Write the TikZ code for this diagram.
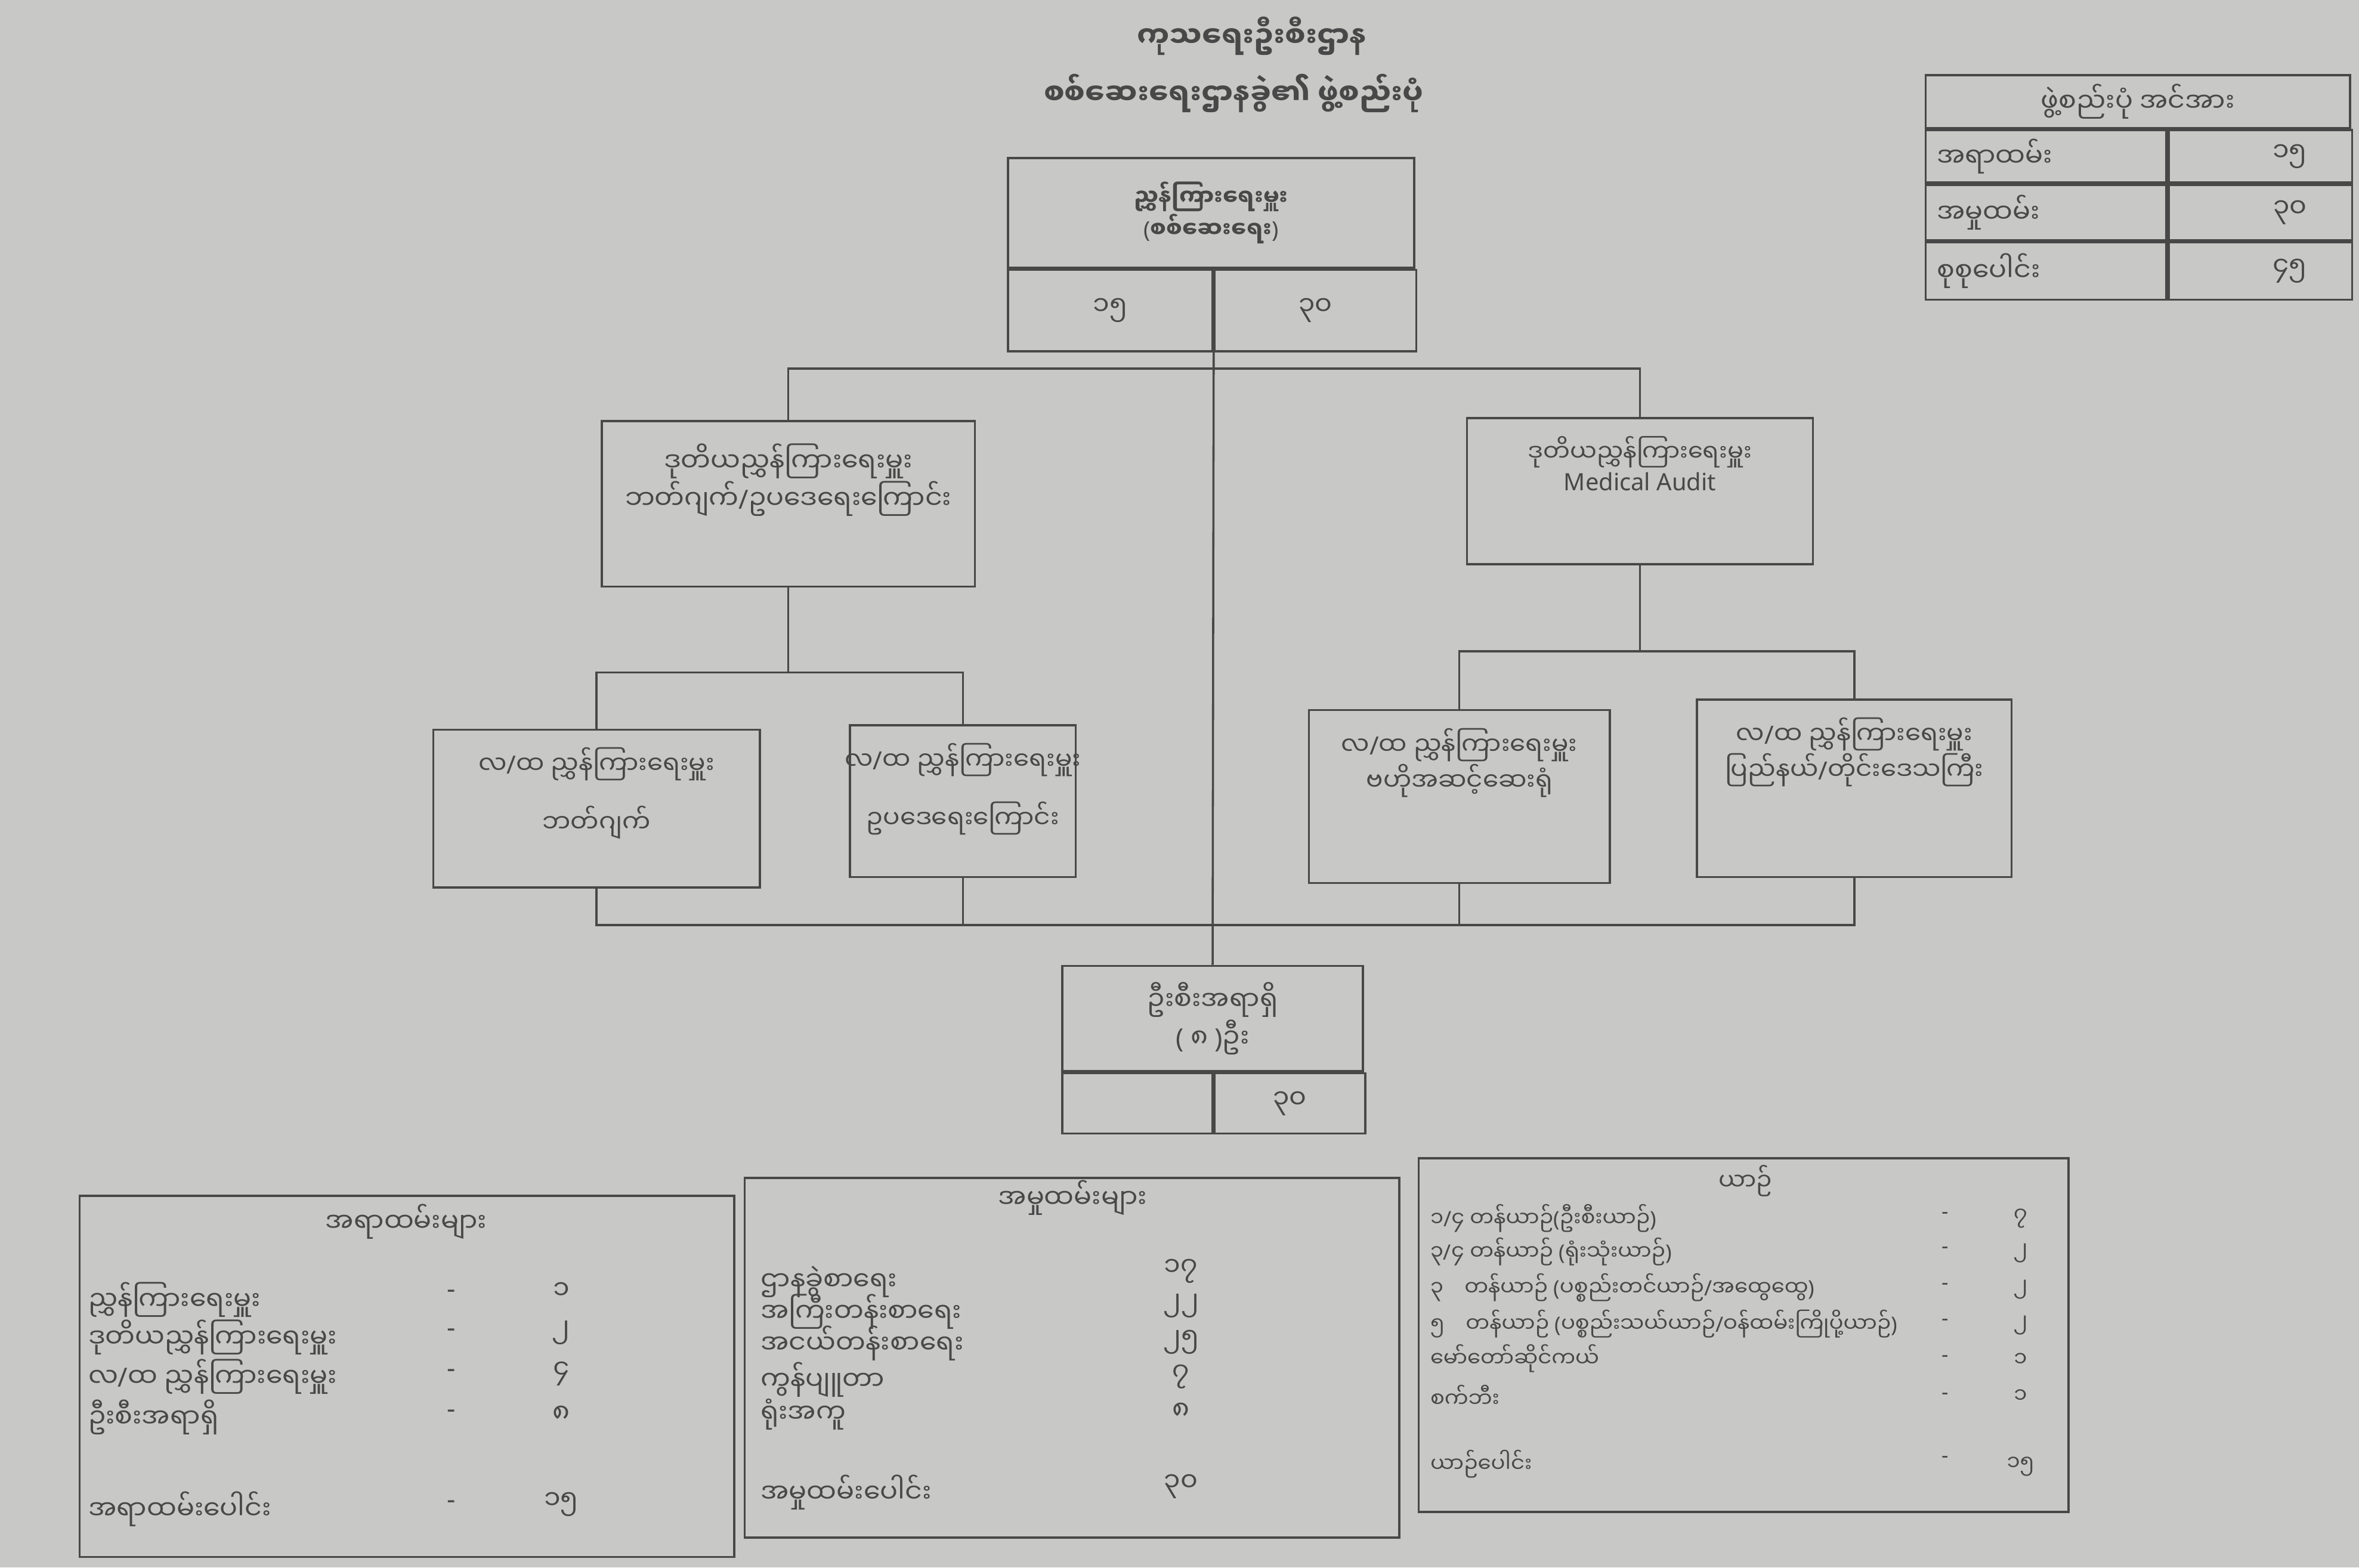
\documentclass[tikz,border=0pt]{standalone}
\usepackage{fontspec}
\setmainfont{Noto Sans}
\newfontfamily\mmfont[Script=Myanmar]{Noto Sans Myanmar UI}
\usetikzlibrary{positioning}

\definecolor{paper}{RGB}{200,200,198}
\definecolor{ink}{RGB}{72,72,72}

% punctuation that the Myanmar face lacks
\newcommand{\opn}{{\rmfamily(}}
\newcommand{\cls}{{\rmfamily)}}
\newcommand{\slsh}{{\rmfamily/}}
\newcommand{\dsh}{{\rmfamily-}}

\begin{document}
\begin{tikzpicture}[
            x = 0.2mm, y = -0.2mm, % one unit = one pixel of the scan
            line width = 0.8pt, % line style
            every node/.style = {text = ink, font = \mmfont\fontsize{10}{13}\selectfont}
        ]

        \tikzstyle{unit}=[
            draw = ink,
            rectangle,
            inner sep = 0pt
        ]
        \tikzstyle{lbl}=[align = center, inner sep = 0pt]
        \tikzstyle{row}=[anchor = west, inner sep = 0pt]
        \tikzstyle{num}=[inner sep = 0pt]
        \tikzstyle{vrow}=[row, font = \mmfont\fontsize{8}{10}\selectfont]
        \tikzstyle{vnum}=[num, font = \mmfont\fontsize{8}{10}\selectfont]
        \tikzstyle{head}=[font = \mmfont\bfseries\fontsize{11}{13}\selectfont]

        \fill[paper] (0,0) rectangle (1568,1042);
        \useasboundingbox (0,0) rectangle (1568,1042);

        % title
        \node[head] (dept) at (832,24) {ကုသရေးဦးစီးဌာန};
        \node[head] (title) at (820,62) {စစ်ဆေးရေးဌာနခွဲ၏ ဖွဲ့စည်းပုံ};

        % strength table
        \node[unit, minimum width=56.4mm, minimum height=7mm] (sHead) at (1421,67.5) {ဖွဲ့စည်းပုံ အင်အား};
        \node[unit, minimum width=32mm, minimum height=7mm, anchor=north west] (sOff) at (sHead.south west) {};
        \node[unit, minimum width=24.4mm, minimum height=7mm, anchor=north west] (sOffN) at (sOff.north east) {};
        \node[unit, minimum width=32mm, minimum height=7.4mm, anchor=north west] (sStf) at (sOff.south west) {};
        \node[unit, minimum width=24.4mm, minimum height=7.4mm, anchor=north west] (sStfN) at (sStf.north east) {};
        \node[unit, minimum width=32mm, minimum height=7.6mm, anchor=north west] (sAll) at (sStf.south west) {};
        \node[unit, minimum width=24.4mm, minimum height=7.6mm, anchor=north west] (sAllN) at (sAll.north east) {};
        \node[row, right=1.5mm of sOff.west] (sOffT) {အရာထမ်း};
        \node[row, right=1.5mm of sStf.west] (sStfT) {အမှုထမ်း};
        \node[row, right=1.5mm of sAll.west] (sAllT) {စုစုပေါင်း};
        \node[num, left=6mm of sOffN.east] (sOffV) {၁၅};
        \node[num, left=6mm of sStfN.east] (sStfV) {၃၀};
        \node[num, left=6mm of sAllN.east] (sAllV) {၄၅};

        % director
        \node[unit, minimum width=54mm, minimum height=14.6mm, align=center,
              font=\mmfont\bfseries\fontsize{8.5}{11}\selectfont] (dg) at (805,141.5) {ညွှန်ကြားရေးမှူး\\\opn စစ်ဆေးရေး\cls};
        \node[unit, minimum width=27.2mm, minimum height=10.8mm, anchor=north west] (dgOff) at (dg.south west) {၁၅};
        \node[unit, minimum width=26.8mm, minimum height=10.8mm, anchor=north west] (dgStf) at (dgOff.north east) {၃၀};

        % deputy directors
        \node[unit, minimum width=49.6mm, minimum height=22mm] (ddl) at (524,335) {};
        \node[lbl, below=3mm of ddl.north] (ddlT) {ဒုတိယညွှန်ကြားရေးမှူး\\ဘတ်ဂျက်\slsh ဥပဒေရေးကြောင်း};
        \node[unit, minimum width=46mm, minimum height=19.4mm] (ddr) at (1090,326.5) {};
        \node[lbl, below=2.4mm of ddr.north, font=\mmfont\fontsize{9}{11}\selectfont] (ddrT) {ဒုတိယညွှန်ကြားရေးမှူး\\{\rmfamily Medical Audit}};

        % assistant directors
        \node[unit, minimum width=43.4mm, minimum height=21mm] (adA) at (396.5,537.5) {};
        \node[lbl, below=2.4mm of adA.north, font=\mmfont\fontsize{9.5}{12}\selectfont] (adAT) {လ\slsh ထ ညွှန်ကြားရေးမှူး\\[3mm]ဘတ်ဂျက်};
        \node[unit, minimum width=30mm, minimum height=20.2mm] (adB) at (640,532.5) {};
        \node[lbl, below=2.4mm of adB.north, font=\mmfont\fontsize{9.5}{12}\selectfont] (adBT) {လ\slsh ထ ညွှန်ကြားရေးမှူး\\[3mm]ဥပဒေရေးကြောင်း};
        \node[unit, minimum width=40mm, minimum height=23mm] (adC) at (970,529.5) {};
        \node[lbl, below=2.4mm of adC.north, font=\mmfont\fontsize{9.5}{12}\selectfont] (adCT) {လ\slsh ထ ညွှန်ကြားရေးမှူး\\ဗဟိုအဆင့်ဆေးရုံ};
        \node[unit, minimum width=41.8mm, minimum height=23.6mm] (adD) at (1232.5,524) {};
        \node[lbl, below=2.4mm of adD.north, font=\mmfont\fontsize{9.5}{12}\selectfont] (adDT) {လ\slsh ထ ညွှန်ကြားရေးမှူး\\ပြည်နယ်\slsh တိုင်းဒေသကြီး};

        % section officers
        \node[unit, minimum width=40mm, minimum height=14mm, align=center] (so) at (806,677) {ဦးစီးအရာရှိ\\\opn\ ၈ \cls ဦး};
        \node[unit, minimum width=20mm, minimum height=8mm, anchor=north west] (soOff) at (so.south west) {};
        \node[unit, minimum width=20mm, minimum height=8mm, anchor=north west] (soStf) at (soOff.north east) {၃၀};

        % connectors
        \coordinate (jTop) at (806,245);
        \coordinate (jL) at (524,447);
        \coordinate (jR) at (1090,433);
        \coordinate (jB) at (806,615);
        \draw[ink] (dgOff.south east) -- (so.north);
        \draw[ink] (ddl.north) |- (jTop) -| (ddr.north);
        \draw[ink] (ddl.south) -- (jL);
        \draw[ink] (adA.north) |- (jL) -| (adB.north);
        \draw[ink] (ddr.south) -- (jR);
        \draw[ink] (adC.north) |- (jR) -| (adD.north);
        \draw[ink] (adA.south) |- (jB) -| (adD.south);
        \draw[ink] (adB.south) |- (jB);
        \draw[ink] (adC.south) |- (jB);

        % officers table
        \node[unit, minimum width=87mm, minimum height=48mm] (offTab) at (270.5,915) {};
        \node (offTitle) at (270,812) {အရာထမ်းများ};
        \node[row] (off1) at (58,864) {ညွှန်ကြားရေးမှူး};
        \node[row] (off2) at (58,889) {ဒုတိယညွှန်ကြားရေးမှူး};
        \node[row] (off3) at (58,915) {လ\slsh ထ ညွှန်ကြားရေးမှူး};
        \node[row] (off4) at (58,942) {ဦးစီးအရာရှိ};
        \node[row] (offSum) at (58,1003) {အရာထမ်းပေါင်း};
        \node[num] (off1d) at (300,860) {\dsh};
        \node[num] (off2d) at (300,886) {\dsh};
        \node[num] (off3d) at (300,913) {\dsh};
        \node[num] (off4d) at (300,940) {\dsh};
        \node[num] (offSumd) at (300,1000) {\dsh};
        \node[num] (off1v) at (373,858) {၁};
        \node[num] (off2v) at (373,886) {၂};
        \node[num] (off3v) at (373,913) {၄};
        \node[num] (off4v) at (373,940) {၈};
        \node[num] (offSumv) at (373,1000) {၁၅};

        % staff table
        \node[unit, minimum width=87mm, minimum height=47.8mm] (stfTab) at (712.5,902.5) {};
        \node (stfTitle) at (713,796) {အမှုထမ်းများ};
        \node[row] (stf1) at (505,852) {ဌာနခွဲစာရေး};
        \node[row] (stf2) at (505,872) {အကြီးတန်းစာရေး};
        \node[row] (stf3) at (505,893) {အငယ်တန်းစာရေး};
        \node[row] (stf4) at (505,917) {ကွန်ပျူတာ};
        \node[row] (stf5) at (505,940) {ရုံးအကူ};
        \node[row] (stfSum) at (505,992) {အမှုထမ်းပေါင်း};
        \node[num] (stf1v) at (785,845) {၁၇};
        \node[num] (stf2v) at (785,868) {၂၂};
        \node[num] (stf3v) at (785,892) {၂၅};
        \node[num] (stf4v) at (785,915) {၇};
        \node[num] (stf5v) at (785,938) {၈};
        \node[num] (stfSumv) at (785,988) {၃၀};

        % vehicle table
        \node[unit, minimum width=86.4mm, minimum height=47mm] (vehTab) at (1159,887.5) {};
        \node[font=\mmfont\fontsize{9}{11}\selectfont] (vehTitle) at (1160,785) {ယာဉ်};
        \node[vrow] (veh1) at (950,810) {၁\slsh ၄ တန်ယာဉ်\opn ဦးစီးယာဉ်\cls};
        \node[vrow] (veh2) at (950,832) {၃\slsh ၄ တန်ယာဉ် \opn ရုံးသုံးယာဉ်\cls};
        \node[vrow] (veh3) at (950,856) {၃\quad တန်ယာဉ် \opn ပစ္စည်းတင်ယာဉ်\slsh အထွေထွေ\cls};
        \node[vrow] (veh4) at (950,880) {၅\quad တန်ယာဉ် \opn ပစ္စည်းသယ်ယာဉ်\slsh ဝန်ထမ်းကြိုပို့ယာဉ်\cls};
        \node[vrow] (veh5) at (950,903) {မော်တော်ဆိုင်ကယ်};
        \node[vrow] (veh6) at (950,928) {စက်ဘီး};
        \node[vrow] (vehSum) at (950,973) {ယာဉ်ပေါင်း};
        \node[vnum] (veh1d) at (1293,808) {\dsh};
        \node[vnum] (veh2d) at (1293,831) {\dsh};
        \node[vnum] (veh3d) at (1293,855) {\dsh};
        \node[vnum] (veh4d) at (1293,879) {\dsh};
        \node[vnum] (veh5d) at (1293,903) {\dsh};
        \node[vnum] (veh6d) at (1293,928) {\dsh};
        \node[vnum] (vehSumd) at (1293,970) {\dsh};
        \node[vnum] (veh1v) at (1343,810) {၇};
        \node[vnum] (veh2v) at (1343,833) {၂};
        \node[vnum] (veh3v) at (1343,857) {၂};
        \node[vnum] (veh4v) at (1343,881) {၂};
        \node[vnum] (veh5v) at (1343,904) {၁};
        \node[vnum] (veh6v) at (1343,928) {၁};
        \node[vnum] (vehSumv) at (1343,975) {၁၅};

    \end{tikzpicture}
\end{document}
